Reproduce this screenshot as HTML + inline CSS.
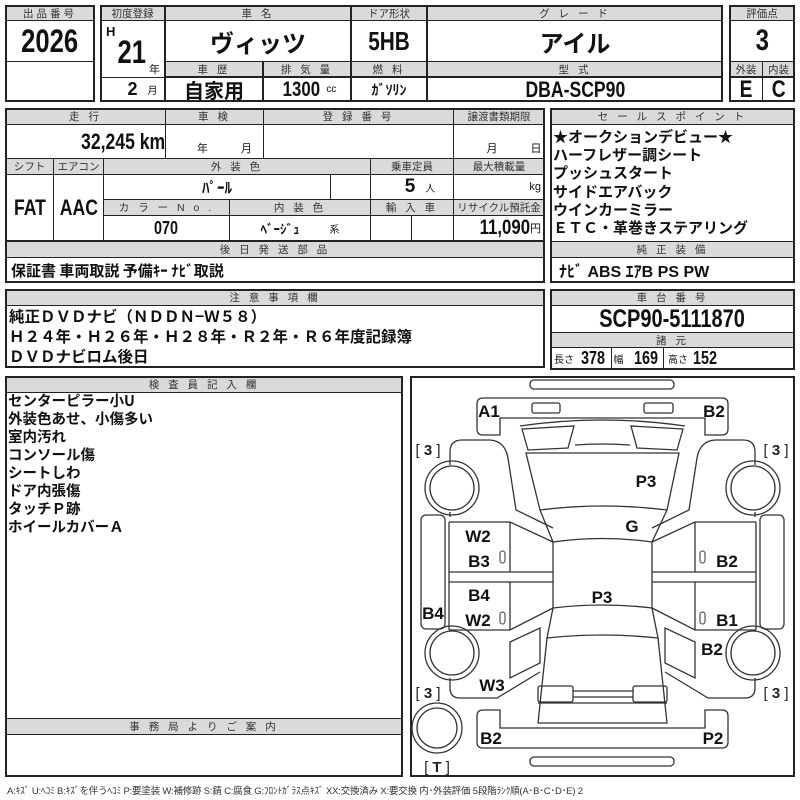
<!DOCTYPE html>
<html><head><meta charset="utf-8"><style>
body{margin:0;width:800px;height:800px;background:#fff;position:relative;overflow:hidden;font-family:"Liberation Sans","Noto Sans CJK JP",sans-serif;color:#111}
.c{position:absolute;box-sizing:border-box;border:1px solid #222;display:flex;align-items:center;justify-content:center;white-space:nowrap}
.g{background:#dadada;font-size:10.5px;letter-spacing:3px;color:#333}
.o{position:absolute;box-sizing:border-box;border:2px solid #222}
.b{font-family:"Liberation Sans Narrow","Liberation Sans","Noto Sans CJK JP",sans-serif;font-weight:bold}
.n{display:inline-block;transform:scaleX(0.8)}
.j{font-family:"Noto Sans CJK JP",sans-serif;font-weight:bold}
.t{position:absolute;white-space:nowrap}
</style></head><body>
<!-- box1 -->
<div class="c g" style="left:5px;top:5px;width:90px;height:16px">出品番号</div>
<div class="c b" style="left:5px;top:20px;width:90px;height:42px;font-size:32px"><span class="n">2026</span></div>
<div class="c" style="left:5px;top:61px;width:90px;height:41px"></div>
<div class="o" style="left:5px;top:5px;width:90px;height:97px"></div>
<!-- box2 -->
<div class="c g" style="left:100px;top:5px;width:65px;height:16px;letter-spacing:0">初度登録</div>
<div class="c g" style="left:165px;top:5px;width:186px;height:16px">車 名</div>
<div class="c g" style="left:351px;top:5px;width:76px;height:16px;letter-spacing:0">ドア形状</div>
<div class="c g" style="left:427px;top:5px;width:296px;height:16px">グ レ ー ド</div>
<div class="c" style="left:100px;top:20px;width:65px;height:58px"></div>
<div class="t b" style="left:106px;top:24px;font-size:13px">H</div>
<div class="t b" style="left:114px;top:34px;font-size:32px"><span class="n">21</span></div>
<div class="t" style="left:149px;top:61px;font-size:11px">年</div>
<div class="c j" style="left:165px;top:20px;width:186px;height:42px;font-size:24px">ヴィッツ</div>
<div class="c b" style="left:351px;top:20px;width:76px;height:42px;font-size:26px"><span class="n">5HB</span></div>
<div class="c j" style="left:427px;top:20px;width:296px;height:42px;font-size:24px">アイル</div>
<div class="c g" style="left:165px;top:61px;width:98px;height:16px">車 歴</div>
<div class="c g" style="left:263px;top:61px;width:88px;height:16px">排 気 量</div>
<div class="c g" style="left:351px;top:61px;width:76px;height:16px">燃 料</div>
<div class="c g" style="left:427px;top:61px;width:296px;height:16px">型 式</div>
<div class="c" style="left:100px;top:77px;width:65px;height:25px"><span class="b" style="font-size:18px;margin-left:20px">2</span><span style="font-size:10px;margin-left:10px">月</span></div>
<div class="c j" style="left:165px;top:77px;width:98px;height:25px;font-size:20px">自家用</div>
<div class="c" style="left:263px;top:77px;width:88px;height:25px"><span class="b n" style="font-size:21px">1300</span><span style="font-size:10px;margin-left:2px">cc</span></div>
<div class="c j" style="left:351px;top:77px;width:76px;height:25px;font-size:14px">ｶﾞｿﾘﾝ</div>
<div class="c b" style="left:427px;top:77px;width:296px;height:25px;font-size:22px"><span class="n">DBA-SCP90</span></div>
<div class="o" style="left:100px;top:5px;width:623px;height:97px"></div>
<!-- eval -->
<div class="c g" style="left:729px;top:5px;width:66px;height:16px;letter-spacing:0">評価点</div>
<div class="c b" style="left:729px;top:20px;width:66px;height:42px;font-size:30px"><span class="n">3</span></div>
<div class="c g" style="left:729px;top:61px;width:34px;height:16px;letter-spacing:0">外装</div>
<div class="c g" style="left:762px;top:61px;width:33px;height:16px;letter-spacing:0">内装</div>
<div class="c b" style="left:729px;top:77px;width:34px;height:25px;font-size:24px"><span class="n">E</span></div>
<div class="c b" style="left:762px;top:77px;width:33px;height:25px;font-size:24px"><span class="n">C</span></div>
<div class="o" style="left:729px;top:5px;width:66px;height:97px"></div>
<!-- block2 -->
<div class="c g" style="left:5px;top:108px;width:161px;height:17px">走 行</div>
<div class="c g" style="left:165px;top:108px;width:99px;height:17px">車 検</div>
<div class="c g" style="left:263px;top:108px;width:191px;height:17px">登 録 番 号</div>
<div class="c g" style="left:453px;top:108px;width:92px;height:17px;letter-spacing:0">譲渡書類期限</div>
<div class="c b" style="left:5px;top:124px;width:161px;height:35px;font-size:22px;justify-content:flex-end;padding-right:0px"><span class="n" style="transform-origin:right center">32,245 km</span></div>
<div class="c" style="left:165px;top:124px;width:99px;height:35px;font-size:11px;align-items:flex-end;padding-bottom:2px;padding-left:20px;word-spacing:30px">年 月</div>
<div class="c" style="left:263px;top:124px;width:191px;height:35px"></div>
<div class="c" style="left:453px;top:124px;width:92px;height:35px;font-size:11px;align-items:flex-end;padding-bottom:2px;padding-left:30px;word-spacing:30px">月 日</div>
<div class="c g" style="left:5px;top:158px;width:49px;height:17px;letter-spacing:0">シフト</div>
<div class="c g" style="left:53px;top:158px;width:51px;height:17px;letter-spacing:0">エアコン</div>
<div class="c g" style="left:103px;top:158px;width:268px;height:17px">外 装 色</div>
<div class="c g" style="left:370px;top:158px;width:84px;height:17px;letter-spacing:0">乗車定員</div>
<div class="c g" style="left:453px;top:158px;width:92px;height:17px;letter-spacing:0">最大積載量</div>
<div class="c b" style="left:5px;top:174px;width:49px;height:67px;font-size:22px"><span class="n">FAT</span></div>
<div class="c b" style="left:53px;top:174px;width:51px;height:67px;font-size:22px"><span class="n">AAC</span></div>
<div class="c j" style="left:103px;top:174px;width:228px;height:26px;font-size:15px">ﾊﾟｰﾙ</div>
<div class="c" style="left:330px;top:174px;width:41px;height:26px"></div>
<div class="c" style="left:370px;top:174px;width:84px;height:26px"><span class="b" style="font-size:19px;margin-left:16px">5</span><span style="font-size:10px;margin-left:10px">人</span></div>
<div class="c" style="left:453px;top:174px;width:92px;height:26px;font-size:11px;justify-content:flex-end;padding-right:3px">kg</div>
<div class="c g" style="left:103px;top:199px;width:127px;height:17px">カ ラ ー N o .</div>
<div class="c g" style="left:229px;top:199px;width:142px;height:17px">内 装 色</div>
<div class="c g" style="left:370px;top:199px;width:84px;height:17px">輸 入 車</div>
<div class="c g" style="left:453px;top:199px;width:92px;height:17px;letter-spacing:0">リサイクル預託金</div>
<div class="c b" style="left:103px;top:215px;width:127px;height:26px;font-size:18px"><span class="n">070</span></div>
<div class="c" style="left:229px;top:215px;width:142px;height:26px"><span class="j" style="font-size:13px">ﾍﾞｰｼﾞｭ</span><span style="font-size:10px;margin-left:30px">系</span></div>
<div class="c" style="left:370px;top:215px;width:42px;height:26px"></div>
<div class="c" style="left:411px;top:215px;width:43px;height:26px"></div>
<div class="c" style="left:453px;top:215px;width:92px;height:26px;justify-content:flex-end;padding-right:3px"><span class="b n" style="font-size:21px;transform-origin:right center">11,090</span><span style="font-size:11px">円</span></div>
<div class="c g" style="left:5px;top:241px;width:540px;height:17px">後 日 発 送 部 品</div>
<div class="c j" style="left:5px;top:257px;width:540px;height:26px;font-size:15px;justify-content:flex-start;padding-left:5px">保証書 車両取説 予備ｷｰ ﾅﾋﾞ取説</div>
<div class="o" style="left:5px;top:108px;width:540px;height:175px"></div>
<!-- sales -->
<div class="c g" style="left:550px;top:108px;width:245px;height:17px">セ ー ル ス ポ イ ン ト</div>
<div class="c" style="left:550px;top:124px;width:245px;height:118px"></div>
<div class="t j" style="left:553px;top:128px;font-size:15px;line-height:18.2px">★オークションデビュー★<br>ハーフレザー調シート<br>プッシュスタート<br>サイドエアバック<br>ウインカーミラー<br>ＥＴＣ・革巻きステアリング</div>
<div class="c g" style="left:550px;top:241px;width:245px;height:17px">純 正 装 備</div>
<div class="c" style="left:550px;top:257px;width:245px;height:26px;justify-content:flex-start;padding-left:8px"><span class="b" style="font-size:16px">ﾅﾋﾞ ABS ｴｱB PS PW</span></div>
<div class="o" style="left:550px;top:108px;width:245px;height:175px"></div>
<!-- notes -->
<div class="c g" style="left:5px;top:289px;width:540px;height:17px">注 意 事 項 欄</div>
<div class="t j" style="left:9px;top:306px;font-size:15.5px;line-height:20px">純正ＤＶＤナビ（ＮＤＤＮ−Ｗ５８）<br>Ｈ２４年・Ｈ２６年・Ｈ２８年・Ｒ２年・Ｒ６年度記録簿<br>ＤＶＤナビロム後日</div>
<div class="o" style="left:5px;top:289px;width:540px;height:79px"></div>
<div class="c g" style="left:550px;top:289px;width:245px;height:17px">車 台 番 号</div>
<div class="c b" style="left:550px;top:305px;width:245px;height:28px;font-size:25px"><span class="n">SCP90-5111870</span></div>
<div class="c g" style="left:550px;top:332px;width:245px;height:16px">諸 元</div>
<div class="c" style="left:550px;top:347px;width:62px;height:23px"><span style="font-size:10px">長さ</span><span class="b n" style="font-size:18px;margin-left:4px">378</span></div>
<div class="c" style="left:611px;top:347px;width:53px;height:23px"><span style="font-size:10px">幅</span><span class="b n" style="font-size:18px;margin-left:8px">169</span></div>
<div class="c" style="left:663px;top:347px;width:132px;height:23px;justify-content:flex-start;padding-left:4px"><span style="font-size:10px">高さ</span><span class="b n" style="font-size:18px;margin-left:2px">152</span></div>
<div class="o" style="left:550px;top:289px;width:245px;height:81px"></div>
<!-- inspector -->
<div class="c g" style="left:5px;top:376px;width:398px;height:17px">検 査 員 記 入 欄</div>
<div class="t j" style="left:8px;top:392px;font-size:14.5px;line-height:18px">センターピラー小U<br>外装色あせ、小傷多い<br>室内汚れ<br>コンソール傷<br>シートしわ<br>ドア内張傷<br>タッチＰ跡<br>ホイールカバーＡ</div>
<div class="c g" style="left:5px;top:718px;width:398px;height:17px">事 務 局 よ り ご 案 内</div>
<div class="o" style="left:5px;top:376px;width:398px;height:401px"></div>
<div class="o" style="left:410px;top:376px;width:385px;height:401px"></div>
<div class="t" style="left:7px;top:783px;font-size:9.5px;color:#333;letter-spacing:-0.2px">A:ｷｽﾞ U:ﾍｺﾐ B:ｷｽﾞを伴うﾍｺﾐ P:要塗装 W:補修跡 S:錆 C:腐食 G:ﾌﾛﾝﾄｶﾞﾗｽ点ｷｽﾞ XX:交換済み X:要交換 内･外装評価 5段階ﾗﾝｸ順(A･B･C･D･E) 2</div>
<svg width="800" height="800" style="position:absolute;left:0;top:0" fill="none" stroke="#333" stroke-width="1.3">
<rect x="530" y="380" width="144" height="9" rx="4"/>
<rect x="530" y="757" width="144" height="9" rx="4"/>
<path d="M483,398 H722 Q728,398 728,404 V429 Q728,435 722,435 H705 V418 H500 V435 H483 Q477,435 477,429 V404 Q477,398 483,398 Z"/>
<path d="M483,748 H722 Q728,748 728,742 V716 Q728,710 722,710 H705 V728 H500 V710 H483 Q477,710 477,716 V742 Q477,748 483,748 Z"/>
<rect x="532" y="403" width="28" height="10" rx="2"/><rect x="644" y="403" width="29" height="10" rx="2"/>
<path d="M520,426 Q602,414 685,426"/>
<path d="M522,429 L574,426 L568,448 L528,450 Z"/><path d="M683,429 L631,426 L637,448 L677,450 Z"/>
<path d="M575,445 Q602,443 630,445"/>
<path d="M526,453 L679,453 L667,510 Q602,502 540,510 Z"/>
<path d="M540,510 L553,542 Q602,535 652,542 L667,510"/>
<path d="M553,542 V608 Q602,602 652,608 V542"/>
<path d="M553,608 L547,638 Q602,632 658,638 L652,608"/>
<path d="M547,638 L538,723 H667 L658,638"/>
<line x1="538" y1="703" x2="667" y2="703"/>
<rect x="538" y="686" width="35" height="16" rx="2"/><rect x="633" y="686" width="34" height="16" rx="2"/>
<line x1="573" y1="691" x2="633" y2="691"/><line x1="573" y1="697" x2="633" y2="697"/>
<g id="side">
<path d="M450,465 V452 Q450,440 462,440 H490 Q505,441 508,458 L516,510 L553,528"/>
<path d="M450,512 V517"/>
<circle cx="452" cy="488" r="27"/><circle cx="452" cy="488" r="22"/>
<circle cx="452" cy="653" r="27"/><circle cx="452" cy="653" r="22"/>
<rect x="421" y="515" width="24" height="114" rx="5"/>
<path d="M449,522 H510 L553,542 M510,522 V572 M449,522 V630 M449,572 H553 M449,582 H553 M510,582 V630 M449,630 H510 L553,608"/>
<path d="M510,642 L540,628 L540,663 L510,678 Z"/>
<path d="M450,678 V688 Q450,698 460,698 H497 L540,672"/>
</g>
<use href="#side" transform="translate(1205,0) scale(-1,1)"/>
<circle cx="437" cy="728" r="25"/><circle cx="437" cy="728" r="20"/>
<rect x="500" y="551" width="5" height="12" rx="2.5" stroke-width="1"/><rect x="500" y="612" width="5" height="12" rx="2.5" stroke-width="1"/>
<rect x="700" y="551" width="5" height="12" rx="2.5" stroke-width="1"/><rect x="700" y="612" width="5" height="12" rx="2.5" stroke-width="1"/>
<g fill="#111" stroke="none" font-family="Liberation Sans,sans-serif" font-weight="bold" font-size="17" text-anchor="middle">
<text x="489" y="417">A1</text><text x="714" y="417">B2</text>
<text x="646" y="487">P3</text><text x="632" y="532">G</text>
<text x="478" y="542">W2</text><text x="479" y="567">B3</text><text x="727" y="567">B2</text>
<text x="602" y="603">P3</text><text x="479" y="601">B4</text><text x="433" y="619">B4</text>
<text x="478" y="626">W2</text><text x="727" y="626">B1</text><text x="712" y="655">B2</text>
<text x="492" y="691">W3</text><text x="491" y="744">B2</text><text x="713" y="744">P2</text>
</g>
<g fill="#222" stroke="none" font-family="Liberation Sans,sans-serif" font-size="15" text-anchor="middle">
<text x="428" y="455">[ <tspan font-weight="bold">3</tspan> ]</text><text x="776" y="455">[ <tspan font-weight="bold">3</tspan> ]</text>
<text x="428" y="698">[ <tspan font-weight="bold">3</tspan> ]</text><text x="776" y="698">[ <tspan font-weight="bold">3</tspan> ]</text>
<text x="437" y="772">[ <tspan font-weight="bold">T</tspan> ]</text>
</g>
</svg>
</body></html>
